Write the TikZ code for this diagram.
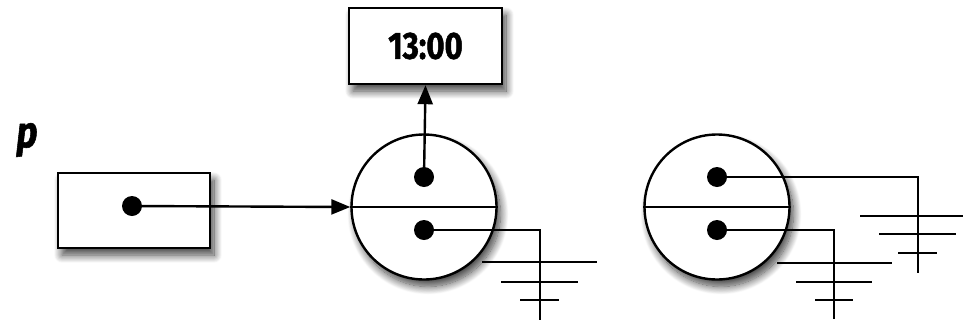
\documentclass[tikz,border=0pt]{standalone}
\usepackage{fontspec}
\setmainfont{Fira Sans}
\newfontfamily\hand[FakeStretch=0.82,FakeBold=1.2]{Fira Sans}
\usetikzlibrary{arrows.meta,shadows.blur}
\tikzset{
  ln/.style={line width=2.4pt, line cap=butt},
  shd/.style={blur shadow={shadow xshift=4pt, shadow yshift=-7pt, shadow blur radius=8pt, shadow blur steps=14, shadow opacity=75}},
  boxnode/.style={draw, ln, fill=white, shd, inner sep=0pt},
  cell/.style={draw, ln, circle, fill=white, shd, minimum size=145pt, inner sep=0pt},
  dot/.style={circle, fill=black, minimum size=20pt, inner sep=0pt},
  arr/.style={ln, -{Triangle[length=19pt,width=15pt]}},
  gnd/.style={ln}
}
\begin{document}
\begin{tikzpicture}[x=1pt,y=-1pt]
\useasboundingbox (0,0) rectangle (963,322);
% variable p
\node[font=\hand\bfseries\itshape\fontsize{44}{44}\selectfont] (plab) at (27,140) {p};
\node[boxnode, minimum width=152pt, minimum height=75pt] (pbox) at (134,210.5) {};
\node[dot] (pd) at (132,206) {};
% value box
\node[boxnode, minimum width=153pt, minimum height=76pt, font=\hand\bfseries\fontsize{38}{38}\selectfont] (val) at (425.5,46) {13:00};
% cell 1
\node[cell] (c1) at (424,207) {};
\draw[ln] (c1.west) -- (c1.east);
\node[dot] (d1a) at (424,177) {};
\node[dot] (d1b) at (424,230) {};
% cell 2
\node[cell] (c2) at (717,207) {};
\draw[ln] (c2.west) -- (c2.east);
\node[dot] (d2a) at (717,177) {};
\node[dot] (d2b) at (717,230) {};
% arrows
\draw[arr] (pd.center) -- (c1.west);
\draw[arr] (d1a.center) -- (val.south);
% grounds
\coordinate (g1) at (540,320);
\draw[gnd] (d1b.center) -| (g1);
\draw[gnd] (482,262) -- (597,262) (501,282) -- (578,282) (520,300) -- (559,300);
\coordinate (g2) at (918,273);
\draw[gnd] (d2a.center) -| (g2);
\draw[gnd] (860,216) -- (963,216) (879,234) -- (956,234) (898,253) -- (937,253);
\coordinate (g3) at (834,319);
\draw[gnd] (d2b.center) -| (g3);
\draw[gnd] (777,263) -- (892,263) (796,282) -- (872,282) (815,300) -- (853,300);
\end{tikzpicture}
\end{document}
